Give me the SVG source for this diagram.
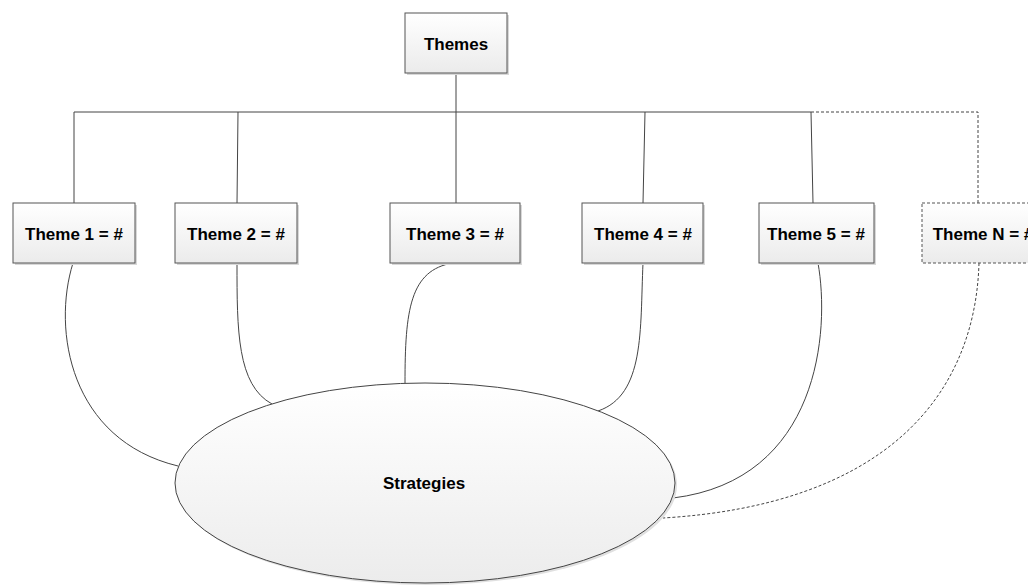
<svg xmlns="http://www.w3.org/2000/svg" width="1028" height="585" viewBox="0 0 1028 585">
<defs>
<linearGradient id="g" x1="0" y1="0" x2="0" y2="1"><stop offset="0" stop-color="#ffffff"/><stop offset="1" stop-color="#ebebeb"/></linearGradient>
<linearGradient id="ge" x1="0" y1="0" x2="0" y2="1"><stop offset="0" stop-color="#ffffff"/><stop offset="1" stop-color="#ececec"/></linearGradient>
</defs>
<style>
.box{fill:url(#g);stroke:#555;stroke-width:1}
.sh{fill:#d8d8d8;stroke:none}
.t{font-family:"Liberation Sans",Arial,sans-serif;font-weight:bold;font-size:17px;fill:#000;text-anchor:middle}
.c{fill:none;stroke:#444;stroke-width:1}
.d{fill:none;stroke:#444;stroke-width:1;stroke-dasharray:3,2}
</style>
<rect width="1028" height="585" fill="#fff"/>
<g id="connectors">
<path class="c" d="M456,73 V112"/>
<path class="c" d="M74,203 V112 H811"/>
<path class="c" d="M237,203 L238,112"/>
<path class="c" d="M456,203 V112"/>
<path class="c" d="M643,203 L645,112"/>
<path class="c" d="M813,203 L811,112"/>
<path class="d" d="M811,112 H978 V203"/>
<path class="c" d="M73,263 C52,330 70,440 178,466"/>
<path class="c" d="M237,263 C237,330 237,385 272,404"/>
<path class="c" d="M453,263 C410,270 405,310 405,383"/>
<path class="c" d="M643,263 C640,330 645,395 598,411"/>
<path class="c" d="M818,263 C830,330 820,480 673,498"/>
<path class="d" d="M979,263 C975,400 880,505 663,518"/>
</g>
<g id="themes"><rect class="sh" x="407" y="15" width="102" height="60"/><rect class="box" x="405" y="13" width="102" height="60"/><text class="t" x="456" y="49.5">Themes</text></g>
<g id="theme1"><rect class="sh" x="15" y="205" width="122" height="60"/><rect class="box" x="13" y="203" width="122" height="60"/><text class="t" x="74" y="239.5">Theme 1 = #</text></g>
<g id="theme2"><rect class="sh" x="177" y="205" width="122" height="60"/><rect class="box" x="175" y="203" width="122" height="60"/><text class="t" x="236" y="239.5">Theme 2 = #</text></g>
<g id="theme3"><rect class="sh" x="392" y="205" width="130" height="60"/><rect class="box" x="390" y="203" width="130" height="60"/><text class="t" x="455" y="239.5">Theme 3 = #</text></g>
<g id="theme4"><rect class="sh" x="584" y="205" width="121" height="60"/><rect class="box" x="582" y="203" width="121" height="60"/><text class="t" x="643" y="239.5">Theme 4 = #</text></g>
<g id="theme5"><rect class="sh" x="761" y="205" width="115" height="60"/><rect class="box" x="759" y="203" width="115" height="60"/><text class="t" x="816" y="239.5">Theme 5 = #</text></g>
<g id="themeN"><rect class="box" x="922" y="203" width="122" height="60" stroke-dasharray="3,2"/><text class="t" x="983" y="239.5">Theme N = #</text></g>
<g id="strategies"><ellipse cx="427" cy="485" rx="250" ry="100" fill="#e0e0e0"/><ellipse cx="425" cy="483" rx="250" ry="100" fill="url(#ge)" stroke="#444" stroke-width="1"/><text class="t" x="424" y="488.5">Strategies</text></g>
</svg>
